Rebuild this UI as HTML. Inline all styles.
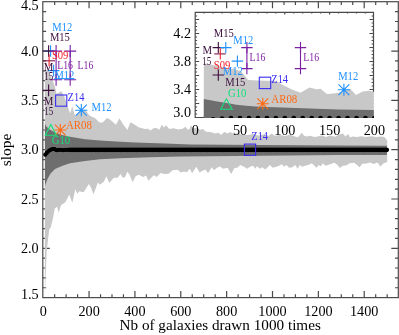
<!DOCTYPE html>
<html><head><meta charset="utf-8"><title>slope vs Nb of galaxies</title>
<style>html,body{margin:0;padding:0;background:#fff;}body{width:399px;height:335px;overflow:hidden;font-family:"Liberation Serif",serif;}svg{display:block;will-change:transform;}text{font-family:"Liberation Serif",serif;}</style></head><body>
<svg width="399" height="335" viewBox="0 0 399 335">
<rect x="0" y="0" width="399" height="335" fill="#ffffff"/>
<g stroke="#4a4a4a" stroke-width="1.2" fill="none">
<rect x="42.8" y="1.7" width="355.5" height="295.9"/>
<path d="M54.67 297.6v-3.3M54.67 1.7v3.3"/>
<path d="M66.13 297.6v-3.3M66.13 1.7v3.3"/>
<path d="M77.59 297.6v-3.3M77.59 1.7v3.3"/>
<path d="M89.06 297.6v-6.5M89.06 1.7v6.5"/>
<path d="M100.53 297.6v-3.3M100.53 1.7v3.3"/>
<path d="M111.99 297.6v-3.3M111.99 1.7v3.3"/>
<path d="M123.45 297.6v-3.3M123.45 1.7v3.3"/>
<path d="M134.92 297.6v-6.5M134.92 1.7v6.5"/>
<path d="M146.38 297.6v-3.3M146.38 1.7v3.3"/>
<path d="M157.85 297.6v-3.3M157.85 1.7v3.3"/>
<path d="M169.31 297.6v-3.3M169.31 1.7v3.3"/>
<path d="M180.78 297.6v-6.5M180.78 1.7v6.5"/>
<path d="M192.25 297.6v-3.3M192.25 1.7v3.3"/>
<path d="M203.71 297.6v-3.3M203.71 1.7v3.3"/>
<path d="M215.18 297.6v-3.3M215.18 1.7v3.3"/>
<path d="M226.64 297.6v-6.5M226.64 1.7v6.5"/>
<path d="M238.11 297.6v-3.3M238.11 1.7v3.3"/>
<path d="M249.57 297.6v-3.3M249.57 1.7v3.3"/>
<path d="M261.04 297.6v-3.3M261.04 1.7v3.3"/>
<path d="M272.50 297.6v-6.5M272.50 1.7v6.5"/>
<path d="M283.97 297.6v-3.3M283.97 1.7v3.3"/>
<path d="M295.43 297.6v-3.3M295.43 1.7v3.3"/>
<path d="M306.89 297.6v-3.3M306.89 1.7v3.3"/>
<path d="M318.36 297.6v-6.5M318.36 1.7v6.5"/>
<path d="M329.82 297.6v-3.3M329.82 1.7v3.3"/>
<path d="M341.29 297.6v-3.3M341.29 1.7v3.3"/>
<path d="M352.75 297.6v-3.3M352.75 1.7v3.3"/>
<path d="M364.22 297.6v-6.5M364.22 1.7v6.5"/>
<path d="M375.69 297.6v-3.3M375.69 1.7v3.3"/>
<path d="M387.15 297.6v-3.3M387.15 1.7v3.3"/>
<path d="M42.8 287.74h3.3M398.3 287.74h-3.3"/>
<path d="M42.8 277.88h3.3M398.3 277.88h-3.3"/>
<path d="M42.8 268.02h3.3M398.3 268.02h-3.3"/>
<path d="M42.8 258.16h3.3M398.3 258.16h-3.3"/>
<path d="M42.8 248.30h7.0M398.3 248.30h-7.0"/>
<path d="M42.8 238.44h3.3M398.3 238.44h-3.3"/>
<path d="M42.8 228.58h3.3M398.3 228.58h-3.3"/>
<path d="M42.8 218.72h3.3M398.3 218.72h-3.3"/>
<path d="M42.8 208.86h3.3M398.3 208.86h-3.3"/>
<path d="M42.8 199.00h7.0M398.3 199.00h-7.0"/>
<path d="M42.8 189.14h3.3M398.3 189.14h-3.3"/>
<path d="M42.8 179.28h3.3M398.3 179.28h-3.3"/>
<path d="M42.8 169.42h3.3M398.3 169.42h-3.3"/>
<path d="M42.8 159.56h3.3M398.3 159.56h-3.3"/>
<path d="M42.8 149.70h7.0M398.3 149.70h-7.0"/>
<path d="M42.8 139.84h3.3M398.3 139.84h-3.3"/>
<path d="M42.8 129.98h3.3M398.3 129.98h-3.3"/>
<path d="M42.8 120.12h3.3M398.3 120.12h-3.3"/>
<path d="M42.8 110.26h3.3M398.3 110.26h-3.3"/>
<path d="M42.8 100.40h7.0M398.3 100.40h-7.0"/>
<path d="M42.8 90.54h3.3M398.3 90.54h-3.3"/>
<path d="M42.8 80.68h3.3M398.3 80.68h-3.3"/>
<path d="M42.8 70.82h3.3M398.3 70.82h-3.3"/>
<path d="M42.8 60.96h3.3M398.3 60.96h-3.3"/>
<path d="M42.8 51.10h7.0M398.3 51.10h-7.0"/>
<path d="M42.8 41.24h3.3M398.3 41.24h-3.3"/>
<path d="M42.8 31.38h3.3M398.3 31.38h-3.3"/>
<path d="M42.8 21.52h3.3M398.3 21.52h-3.3"/>
<path d="M42.8 11.66h3.3M398.3 11.66h-3.3"/>
</g>
<polygon points="44.9,72.0 46.0,71.0 48.1,70.1 52.2,79.2 55.2,87.4 56.3,93.4 58.5,93.0 61.2,91.0 64.1,96.1 66.0,101.5 67.6,106.3 70.2,113.4 72.2,106.3 74.2,113.4 75.2,115.4 78.0,113.0 81.4,110.5 84.0,109.6 86.9,111.9 89.4,115.4 93.5,117.4 95.0,118.0 99.5,122.6 102.6,122.6 107.0,118.0 110.0,119.5 116.0,124.8 119.4,118.3 122.9,124.0 127.4,130.0 130.4,122.3 134.5,124.5 139.0,127.6 141.3,127.9 145.0,129.0 148.0,128.8 150.3,130.6 154.0,127.9 157.0,128.3 159.3,129.8 161.9,124.5 163.8,127.6 166.0,125.3 169.4,129.0 173.6,128.3 178.1,129.4 182.6,128.8 185.6,126.8 187.9,129.8 189.5,129.0 191.0,125.3 193.0,128.5 196.0,128.0 200.0,129.8 203.0,129.0 206.0,131.8 210.6,132.0 215.0,133.6 218.8,132.8 221.0,135.0 224.4,132.0 227.9,133.6 230.0,132.0 234.0,134.0 238.0,133.0 242.0,135.0 248.0,135.0 253.0,134.0 258.0,135.5 263.0,134.5 269.0,135.8 271.6,133.6 274.6,135.8 280.0,135.0 285.0,136.0 290.0,134.8 295.0,136.6 298.0,137.3 301.8,132.8 304.0,135.8 307.0,136.6 310.0,135.8 314.5,136.9 317.6,136.6 322.0,135.5 326.0,137.0 330.0,135.5 335.0,136.8 340.0,134.3 343.0,133.6 345.4,136.6 348.0,133.9 350.2,137.4 352.5,136.6 357.0,137.0 361.0,136.2 366.0,137.0 371.0,136.3 376.0,137.0 381.0,136.5 384.5,137.0 386.8,140.0 387.2,141.0 387.2,161.9 383.4,163.4 380.4,166.6 377.4,162.6 373.7,164.1 370.0,162.6 366.9,163.4 362.4,163.8 359.5,167.2 357.1,165.0 354.1,162.8 349.6,163.2 346.6,165.3 342.8,165.8 339.8,168.0 337.6,165.0 334.5,162.8 330.0,164.3 325.5,165.8 322.8,163.2 321.0,166.2 318.8,165.0 316.4,167.7 311.9,163.2 308.1,165.0 305.1,165.8 302.1,166.8 299.8,165.0 297.6,168.8 295.3,165.0 292.3,167.3 289.3,167.7 286.3,165.0 284.0,166.8 281.8,164.3 278.0,166.2 272.8,167.7 269.8,165.0 265.3,169.5 262.1,167.3 259.9,168.8 256.9,166.2 255.4,168.8 253.1,165.8 250.1,166.8 247.1,168.8 244.1,166.8 240.3,165.0 237.3,167.7 234.3,168.0 231.3,174.1 227.6,167.7 223.0,168.8 220.0,166.5 217.0,167.7 214.0,170.3 211.8,167.3 208.0,173.3 205.6,169.5 202.6,170.8 199.6,172.6 196.3,166.8 192.1,173.3 189.8,168.8 186.8,172.3 183.8,171.4 180.8,172.6 177.8,169.8 172.6,170.3 168.8,173.8 164.3,174.1 160.5,172.9 156.8,177.1 153.8,175.3 151.5,177.5 148.4,180.8 146.1,175.6 143.1,177.1 138.6,174.8 135.6,176.3 132.6,182.3 129.6,174.8 127.3,171.8 125.1,177.1 122.8,177.8 120.6,174.1 117.6,177.8 113.8,177.8 109.3,183.1 106.3,176.3 104.0,181.6 100.0,184.8 97.9,182.6 93.4,194.6 91.1,187.8 88.9,184.0 83.6,192.3 79.4,191.3 77.3,193.8 75.3,189.3 72.3,202.9 69.3,194.6 65.4,202.2 60.9,205.2 58.7,212.7 57.2,206.7 54.9,208.2 52.7,219.4 50.7,227.6 49.3,229.1 47.4,245.0 46.7,250.0 45.6,277.8 45.0,292.5 44.9,297.6" fill="#c8c8c8"/>
<polygon points="44.9,123.6 46.0,126.0 49.0,129.0 55.0,132.5 62.0,135.0 70.0,136.8 85.0,139.2 100.0,140.5 120.0,141.8 135.0,142.4 150.0,142.9 165.0,143.6 190.0,144.4 260.0,145.0 340.0,145.6 386.9,145.7 386.9,155.0 340.0,155.1 260.0,155.7 180.0,156.6 150.0,157.2 120.0,158.3 100.0,159.3 85.0,160.9 70.0,163.3 62.6,165.7 55.0,169.0 50.5,173.5 47.5,179.0 45.3,184.8 44.9,187.0" fill="#6e6e6e"/>
<polyline points="45.3,154.7 47.0,152.6 49.3,150.5 51.5,149.3 53.8,148.8 55.5,149.6 56.8,150.4 58.5,149.9 59.8,149.6 61.5,149.9 63.6,150.2 66.0,149.9 70.0,149.8" fill="none" stroke="#000" stroke-width="3.3" stroke-linecap="round" stroke-linejoin="round"/>
<polyline points="45.3,154.7 47.0,152.6 49.3,150.5 51.5,149.3 53.8,148.8 55.5,149.6 56.8,150.4 58.5,149.9 59.8,149.6 61.5,149.9 63.6,150.2 66.0,149.9 70.0,149.8" fill="none" stroke="#000" stroke-width="4.2" stroke-linecap="round" stroke-linejoin="round" stroke-dasharray="0 2.293"/>
<polyline points="70.0,149.8 120.0,149.8 387.2,149.8" fill="none" stroke="#000" stroke-width="3.7" stroke-linecap="round" stroke-linejoin="round"/>
<polyline points="70.0,149.8 120.0,149.8 387.2,149.8" fill="none" stroke="#000" stroke-width="4.7" stroke-linecap="round" stroke-linejoin="round" stroke-dasharray="0 2.293"/>
<path d="M44.8 51.0h11.6M50.6 45.2v11.6" stroke="#1e90ff" stroke-width="1.1" fill="none"/>
<path d="M47.8 70.6h11.6M53.6 64.8v11.6" stroke="#1e90ff" stroke-width="1.1" fill="none"/>
<path d="M42.8 51.0h11.6M48.6 45.2v11.6" stroke="#3d0f3d" stroke-width="1.1" fill="none"/>
<path d="M42.8 90.4h11.6M48.6 84.6v11.6" stroke="#3d0f3d" stroke-width="1.1" fill="none"/>
<path d="M43.3 60.8h11.6" stroke="#7a1840" stroke-width="1.1"/>
<path d="M49.1 54.6v11.6" stroke="#f5202a" stroke-width="1.1"/>
<path d="M50.1 51.1h12.0M56.1 45.1v12.0" stroke="#7b1fa2" stroke-width="1.1" fill="none"/>
<path d="M50.1 79.8h12.0M56.1 73.8v12.0" stroke="#7b1fa2" stroke-width="1.1" fill="none"/>
<path d="M56.1 51.1V79.8" stroke="#7b1fa2" stroke-width="1.1"/>
<path d="M64.2 51.1h12.0M70.2 45.1v12.0" stroke="#7b1fa2" stroke-width="1.1" fill="none"/>
<path d="M64.2 79.8h12.0M70.2 73.8v12.0" stroke="#7b1fa2" stroke-width="1.1" fill="none"/>
<path d="M70.2 51.1V79.8" stroke="#7b1fa2" stroke-width="1.1"/>
<path d="M54.2 78.7H74.5" stroke="#1e90ff" stroke-width="1.0"/>
<rect x="55.6" y="95.0" width="11.2" height="11.2" stroke="#3a2cf0" stroke-width="1.1" fill="none"/>
<rect x="244.4" y="144.1" width="11.2" height="11.2" stroke="#3a2cf0" stroke-width="1.1" fill="none"/>
<path d="M75.2 110.2h12.2M81.3 104.1v12.2M75.8 104.7l11.0 11.0M75.8 115.7l11.0 -11.0" stroke="#1e90ff" stroke-width="1.1" fill="none"/>
<path d="M54.3 130.0h12.0M60.3 124.0v12.0M54.9 124.6l10.8 10.8M54.9 135.4l10.8 -10.8" stroke="#ff6a14" stroke-width="1.1" fill="none"/>
<path d="M45.3 135.2H56.4L50.8 124.4Z" stroke="#14e07a" stroke-width="1.1" fill="none"/>
<text x="52.3" y="31.2" font-size="12.0" fill="#1e90ff" text-anchor="start" textLength="20.0" lengthAdjust="spacingAndGlyphs">M12</text>
<text x="49.9" y="40.5" font-size="12.0" fill="#3d0f3d" text-anchor="start" textLength="20.0" lengthAdjust="spacingAndGlyphs">M15</text>
<text x="51.9" y="58.5" font-size="12.0" fill="#f5202a" text-anchor="start" textLength="16.5" lengthAdjust="spacingAndGlyphs">S09</text>
<text x="57.2" y="69.0" font-size="12.0" fill="#7b1fa2" text-anchor="start" textLength="15.8" lengthAdjust="spacingAndGlyphs">L16</text>
<text x="77.6" y="69.0" font-size="12.0" fill="#7b1fa2" text-anchor="start" textLength="15.8" lengthAdjust="spacingAndGlyphs">L16</text>
<text x="43.8" y="71.3" font-size="12.0" fill="#3d0f3d" text-anchor="start" textLength="9.6" lengthAdjust="spacingAndGlyphs">M</text>
<text x="44.2" y="79.8" font-size="12.0" fill="#3d0f3d" text-anchor="start" textLength="9.0" lengthAdjust="spacingAndGlyphs">15</text>
<text x="54.4" y="79.0" font-size="12.0" fill="#1e90ff" text-anchor="start" textLength="20.0" lengthAdjust="spacingAndGlyphs">M12</text>
<text x="43.8" y="105.0" font-size="12.0" fill="#3d0f3d" text-anchor="start" textLength="9.6" lengthAdjust="spacingAndGlyphs">M</text>
<text x="44.2" y="114.9" font-size="12.0" fill="#3d0f3d" text-anchor="start" textLength="9.0" lengthAdjust="spacingAndGlyphs">15</text>
<text x="67.6" y="100.7" font-size="12.0" fill="#3a2cf0" text-anchor="start" textLength="16.8" lengthAdjust="spacingAndGlyphs">Z14</text>
<text x="91.5" y="110.5" font-size="12.0" fill="#1e90ff" text-anchor="start" textLength="20.0" lengthAdjust="spacingAndGlyphs">M12</text>
<text x="65.9" y="129.3" font-size="12.0" fill="#ff6a14" text-anchor="start" textLength="26.0" lengthAdjust="spacingAndGlyphs">AR08</text>
<text x="51.7" y="144.3" font-size="12.0" fill="#14e07a" text-anchor="start" textLength="18.4" lengthAdjust="spacingAndGlyphs">G10</text>
<text x="251.3" y="139.9" font-size="12.0" fill="#3a2cf0" text-anchor="start" textLength="16.8" lengthAdjust="spacingAndGlyphs">Z14</text>
<g stroke="#4a4a4a" stroke-width="1.2" fill="none">
<path d="M195.2 118.1V12.4H373.5V92.3M195.2 117.5H373.5"/>
<path d="M204.16 117.5v-1.2M204.16 12.4v1.2"/>
<path d="M213.12 117.5v-1.2M213.12 12.4v1.2"/>
<path d="M222.08 117.5v-1.2M222.08 12.4v1.2"/>
<path d="M231.04 117.5v-1.2M231.04 12.4v1.2"/>
<path d="M240.00 117.5v-2.2M240.00 12.4v2.2"/>
<path d="M248.96 117.5v-1.2M248.96 12.4v1.2"/>
<path d="M257.92 117.5v-1.2M257.92 12.4v1.2"/>
<path d="M266.88 117.5v-1.2M266.88 12.4v1.2"/>
<path d="M275.84 117.5v-1.2M275.84 12.4v1.2"/>
<path d="M284.80 117.5v-2.2M284.80 12.4v2.2"/>
<path d="M293.76 117.5v-1.2M293.76 12.4v1.2"/>
<path d="M302.72 117.5v-1.2M302.72 12.4v1.2"/>
<path d="M311.68 117.5v-1.2M311.68 12.4v1.2"/>
<path d="M320.64 117.5v-1.2M320.64 12.4v1.2"/>
<path d="M329.60 117.5v-2.2M329.60 12.4v2.2"/>
<path d="M338.56 117.5v-1.2M338.56 12.4v1.2"/>
<path d="M347.52 117.5v-1.2M347.52 12.4v1.2"/>
<path d="M356.48 117.5v-1.2M356.48 12.4v1.2"/>
<path d="M365.44 117.5v-1.2M365.44 12.4v1.2"/>
<path d="M195.2 114.00h1.9M373.5 114.00h-1.9"/>
<path d="M195.2 110.50h1.9M373.5 110.50h-1.9"/>
<path d="M195.2 107.00h1.9M373.5 107.00h-1.9"/>
<path d="M195.2 103.50h4.0M373.5 103.50h-4.0"/>
<path d="M195.2 100.00h1.9M373.5 100.00h-1.9"/>
<path d="M195.2 96.50h1.9M373.5 96.50h-1.9"/>
<path d="M195.2 93.00h1.9M373.5 93.00h-1.9"/>
<path d="M195.2 89.50h4.0M373.5 89.50h-4.0"/>
<path d="M195.2 86.00h1.9M373.5 86.00h-1.9"/>
<path d="M195.2 82.50h1.9M373.5 82.50h-1.9"/>
<path d="M195.2 79.00h1.9M373.5 79.00h-1.9"/>
<path d="M195.2 75.50h4.0M373.5 75.50h-4.0"/>
<path d="M195.2 72.00h1.9M373.5 72.00h-1.9"/>
<path d="M195.2 68.50h1.9M373.5 68.50h-1.9"/>
<path d="M195.2 65.00h1.9M373.5 65.00h-1.9"/>
<path d="M195.2 61.50h4.0M373.5 61.50h-4.0"/>
<path d="M195.2 58.00h1.9M373.5 58.00h-1.9"/>
<path d="M195.2 54.50h1.9M373.5 54.50h-1.9"/>
<path d="M195.2 51.00h1.9M373.5 51.00h-1.9"/>
<path d="M195.2 47.50h4.0M373.5 47.50h-4.0"/>
<path d="M195.2 44.00h1.9M373.5 44.00h-1.9"/>
<path d="M195.2 40.50h1.9M373.5 40.50h-1.9"/>
<path d="M195.2 37.00h1.9M373.5 37.00h-1.9"/>
<path d="M195.2 33.50h4.0M373.5 33.50h-4.0"/>
<path d="M195.2 30.00h1.9M373.5 30.00h-1.9"/>
<path d="M195.2 26.50h1.9M373.5 26.50h-1.9"/>
<path d="M195.2 23.00h1.9M373.5 23.00h-1.9"/>
<path d="M195.2 19.50h4.0M373.5 19.50h-4.0"/>
<path d="M195.2 16.00h1.9M373.5 16.00h-1.9"/>
</g>
<polygon points="203.8,63.3 213.1,65.0 222.1,67.1 231.0,68.5 240.9,71.0 248.1,80.1 257.9,80.4 275.8,81.1 281.8,84.6 292.0,89.5 300.6,92.8 309.4,87.6 316.7,89.3 320.6,88.7 326.9,93.9 333.2,93.5 338.6,92.8 343.9,90.2 350.2,88.7 356.0,94.9 362.8,91.4 369.0,90.7 373.5,91.8 373.8,91.8 373.8,118.0 203.8,118.0" fill="#c8c8c8"/>
<polygon points="203.8,99.1 215.8,101.2 226.6,103.1 236.4,104.7 246.3,105.7 255.2,106.4 266.9,107.0 282.1,107.5 309.9,108.5 338.6,109.4 373.5,110.0 373.8,110.0 373.8,118.0 203.8,118.0" fill="#6e6e6e"/>
<clipPath id="ic"><rect x="195.2" y="12.4" width="178.8" height="105.7"/></clipPath>
<g clip-path="url(#ic)" fill="#000">
<circle cx="204.2" cy="121.1" r="2.4"/>
<circle cx="213.1" cy="119.3" r="2.4"/>
<circle cx="222.1" cy="118.7" r="2.4"/>
<circle cx="231.0" cy="118.2" r="2.4"/>
<circle cx="240.0" cy="118.2" r="2.4"/>
<circle cx="249.0" cy="118.2" r="2.4"/>
<circle cx="257.9" cy="118.2" r="2.4"/>
<circle cx="266.9" cy="118.2" r="2.4"/>
<circle cx="275.8" cy="118.2" r="2.4"/>
<circle cx="284.8" cy="118.2" r="2.4"/>
<circle cx="293.8" cy="118.2" r="2.4"/>
<circle cx="302.7" cy="118.2" r="2.4"/>
<circle cx="311.7" cy="118.2" r="2.4"/>
<circle cx="320.6" cy="118.2" r="2.4"/>
<circle cx="329.6" cy="118.2" r="2.4"/>
<circle cx="338.6" cy="118.2" r="2.4"/>
<circle cx="347.5" cy="118.2" r="2.4"/>
<circle cx="356.5" cy="118.2" r="2.4"/>
<circle cx="365.4" cy="118.2" r="2.4"/>
<circle cx="374.4" cy="118.2" r="2.4"/>
</g>
<path d="M212.6 47.6h11.4M218.3 41.9v11.4" stroke="#3d0f3d" stroke-width="1.1" fill="none"/>
<path d="M212.6 75.0h11.4M218.3 69.3v11.4" stroke="#3d0f3d" stroke-width="1.1" fill="none"/>
<path d="M214.3 53.9h11.4" stroke="#7a1840" stroke-width="1.1"/>
<path d="M220.3 48.2v11.4" stroke="#f5202a" stroke-width="1.1"/>
<path d="M220.1 47.6h11.4M225.8 41.9v11.4" stroke="#1e90ff" stroke-width="1.1" fill="none"/>
<path d="M231.7 61.1h11.4M237.4 55.4v11.4" stroke="#1e90ff" stroke-width="1.1" fill="none"/>
<path d="M241.2 47.6h11.4M246.9 41.9v11.4" stroke="#7b1fa2" stroke-width="1.1" fill="none"/>
<path d="M241.2 68.6h11.4M246.9 62.9v11.4" stroke="#7b1fa2" stroke-width="1.1" fill="none"/>
<path d="M246.9 47.6V68.6" stroke="#7b1fa2" stroke-width="1.1"/>
<path d="M294.8 47.6h11.4M300.5 41.9v11.4" stroke="#7b1fa2" stroke-width="1.1" fill="none"/>
<path d="M294.8 68.6h11.4M300.5 62.9v11.4" stroke="#7b1fa2" stroke-width="1.1" fill="none"/>
<path d="M300.5 47.6V68.6" stroke="#7b1fa2" stroke-width="1.1"/>
<rect x="259.3" y="77.2" width="11.4" height="11.4" stroke="#3a2cf0" stroke-width="1.1" fill="none"/>
<path d="M337.9 89.7h12.0M343.9 83.7v12.0M338.5 84.3l10.8 10.8M338.5 95.1l10.8 -10.8" stroke="#1e90ff" stroke-width="1.1" fill="none"/>
<path d="M256.8 103.8h12.0M262.8 97.8v12.0M257.4 98.4l10.8 10.8M257.4 109.2l10.8 -10.8" stroke="#ff6a14" stroke-width="1.1" fill="none"/>
<path d="M220.7 109.3H232.1L226.4 98.8Z" stroke="#14e07a" stroke-width="1.1" fill="none"/>
<text x="213.8" y="37.0" font-size="12.0" fill="#3d0f3d" text-anchor="start" textLength="20.0" lengthAdjust="spacingAndGlyphs">M15</text>
<text x="233.3" y="43.8" font-size="12.0" fill="#1e90ff" text-anchor="start" textLength="20.0" lengthAdjust="spacingAndGlyphs">M12</text>
<text x="202.5" y="54.3" font-size="12.0" fill="#3d0f3d" text-anchor="start" textLength="9.6" lengthAdjust="spacingAndGlyphs">M</text>
<text x="202.3" y="64.8" font-size="12.0" fill="#3d0f3d" text-anchor="start" textLength="9.0" lengthAdjust="spacingAndGlyphs">15</text>
<text x="213.8" y="68.6" font-size="12.0" fill="#f5202a" text-anchor="start" textLength="16.5" lengthAdjust="spacingAndGlyphs">S09</text>
<text x="222.8" y="75.2" font-size="12.0" fill="#1e90ff" text-anchor="start" textLength="20.0" lengthAdjust="spacingAndGlyphs">M12</text>
<text x="225.3" y="86.2" font-size="12.0" fill="#3d0f3d" text-anchor="start" textLength="20.0" lengthAdjust="spacingAndGlyphs">M15</text>
<text x="249.6" y="61.3" font-size="12.0" fill="#7b1fa2" text-anchor="start" textLength="15.8" lengthAdjust="spacingAndGlyphs">L16</text>
<text x="303.3" y="61.4" font-size="12.0" fill="#7b1fa2" text-anchor="start" textLength="15.8" lengthAdjust="spacingAndGlyphs">L16</text>
<text x="271.3" y="83.1" font-size="12.0" fill="#3a2cf0" text-anchor="start" textLength="16.8" lengthAdjust="spacingAndGlyphs">Z14</text>
<text x="338.2" y="79.8" font-size="12.0" fill="#1e90ff" text-anchor="start" textLength="20.0" lengthAdjust="spacingAndGlyphs">M12</text>
<text x="271.3" y="103.2" font-size="12.0" fill="#ff6a14" text-anchor="start" textLength="26.0" lengthAdjust="spacingAndGlyphs">AR08</text>
<text x="228.0" y="96.6" font-size="12.0" fill="#14e07a" text-anchor="start" textLength="18.4" lengthAdjust="spacingAndGlyphs">G10</text>
<text x="38.7" y="9.8" font-size="14.2" fill="#000" text-anchor="end">4.5</text>
<text x="38.7" y="55.8" font-size="14.2" fill="#000" text-anchor="end">4.0</text>
<text x="38.7" y="105.1" font-size="14.2" fill="#000" text-anchor="end">3.5</text>
<text x="38.7" y="154.4" font-size="14.2" fill="#000" text-anchor="end">3.0</text>
<text x="38.7" y="203.7" font-size="14.2" fill="#000" text-anchor="end">2.5</text>
<text x="38.7" y="253.0" font-size="14.2" fill="#000" text-anchor="end">2.0</text>
<text x="38.7" y="298.5" font-size="14.2" fill="#000" text-anchor="end">1.5</text>
<text x="43.2" y="315.5" font-size="14.2" fill="#000" text-anchor="middle">0</text>
<text x="89.1" y="315.5" font-size="14.2" fill="#000" text-anchor="middle">200</text>
<text x="134.9" y="315.5" font-size="14.2" fill="#000" text-anchor="middle">400</text>
<text x="180.8" y="315.5" font-size="14.2" fill="#000" text-anchor="middle">600</text>
<text x="226.6" y="315.5" font-size="14.2" fill="#000" text-anchor="middle">800</text>
<text x="272.5" y="315.5" font-size="14.2" fill="#000" text-anchor="middle">1000</text>
<text x="318.4" y="315.5" font-size="14.2" fill="#000" text-anchor="middle">1200</text>
<text x="364.2" y="315.5" font-size="14.2" fill="#000" text-anchor="middle">1400</text>
<text x="191.0" y="37.7" font-size="14.2" fill="#000" text-anchor="end">4.2</text>
<text x="191.0" y="66.0" font-size="14.2" fill="#000" text-anchor="end">3.8</text>
<text x="191.0" y="94.3" font-size="14.2" fill="#000" text-anchor="end">3.4</text>
<text x="191.0" y="116.5" font-size="14.2" fill="#000" text-anchor="end">3.0</text>
<text x="195.2" y="135.4" font-size="14.2" fill="#000" text-anchor="middle">0</text>
<text x="240.0" y="135.4" font-size="14.2" fill="#000" text-anchor="middle">50</text>
<text x="284.8" y="135.4" font-size="14.2" fill="#000" text-anchor="middle">100</text>
<text x="329.6" y="135.4" font-size="14.2" fill="#000" text-anchor="middle">150</text>
<text x="374.4" y="135.4" font-size="14.2" fill="#000" text-anchor="middle">200</text>
<text x="220.2" y="329.8" font-size="14" text-anchor="middle" textLength="201.3" lengthAdjust="spacingAndGlyphs">Nb of galaxies drawn 1000 times</text>
<text transform="translate(10.5 150) rotate(-90)" font-size="14" text-anchor="middle" textLength="32.7" lengthAdjust="spacingAndGlyphs">slope</text>
</svg></body></html>
